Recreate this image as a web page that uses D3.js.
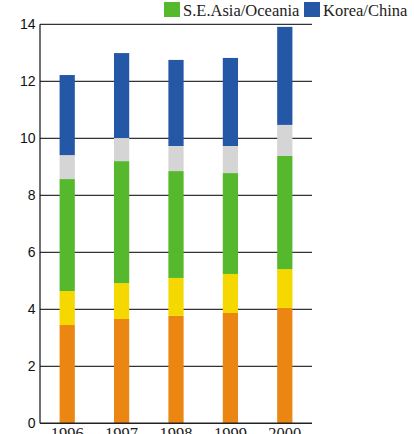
<!DOCTYPE html>
<html lang="en">
<head>
<meta charset="UTF-8">
<title>Stacked bars</title>
<style>
  body { margin:0; background:#fff; }
  svg { display:block; }
</style>
</head>
<body>
<svg width="414" height="434"></svg>
<script src="https://cdnjs.cloudflare.com/ajax/libs/d3/7.8.5/d3.min.js"></script>
<script>
// data
const years = ["1996", "1997", "1998", "1999", "2000"];
const seriesNames = ["Japan", "North America", "S.E.Asia/Oceania", "Europe", "Korea/China"];
const seriesColors = ["#ec8612", "#f5d800", "#56b92d", "#d5d5d5", "#2457a5"];
const japan = [3.45, 3.66, 3.77, 3.87, 4.05];
const northAmerica = [1.19, 1.26, 1.33, 1.37, 1.36];
const seAsia = [3.93, 4.28, 3.75, 3.54, 3.97];
const europe = [0.84, 0.81, 0.88, 0.95, 1.09];
const koreaChina = [2.81, 2.98, 3.02, 3.09, 3.44];
const yTicks = [0, 2, 4, 6, 8, 10, 12, 14];
const legendShown = ["S.E.Asia/Oceania", "Korea/China"];

const seriesValues = [japan, northAmerica, seAsia, europe, koreaChina];
const rows = years.map((yr, i) => {
  const r = { year: yr };
  seriesNames.forEach((n, k) => r[n] = seriesValues[k][i]);
  return r;
});

const svg = d3.select("svg");
const plotL = 40, plotR = 312, plotT = 24.3, plotB = 423.3;

const x = d3.scaleBand().domain(years).range([plotL, plotR])
  .paddingInner(0.72).paddingOuter(0.36);
const y = d3.scaleLinear().domain([0, 14]).range([plotB, plotT]);

// grid lines
svg.append("g").selectAll("line").data(yTicks.slice(1)).join("line")
  .attr("x1", plotL).attr("x2", plotR)
  .attr("y1", d => y(d)).attr("y2", d => y(d))
  .attr("stroke", "#333").attr("stroke-width", 1.3);

// bars
const stacked = d3.stack().keys(seriesNames)(rows);
svg.append("g").selectAll("g").data(stacked).join("g")
  .attr("fill", (d, i) => seriesColors[i])
  .selectAll("rect").data(d => d).join("rect")
  .attr("x", d => x(d.data.year))
  .attr("width", x.bandwidth())
  .attr("y", d => y(d[1]))
  .attr("height", d => y(d[0]) - y(d[1]));

// axes lines
svg.append("line").attr("x1", plotL).attr("x2", plotL).attr("y1", plotT).attr("y2", plotB)
  .attr("stroke", "#111").attr("stroke-width", 1.2);
svg.append("line").attr("x1", plotL).attr("x2", plotR).attr("y1", plotB).attr("y2", plotB)
  .attr("stroke", "#222").attr("stroke-width", 1.6);

// y tick labels
svg.append("g").selectAll("text").data(yTicks).join("text")
  .attr("x", 35.5).attr("y", d => y(d)).attr("dy", "0.36em")
  .attr("text-anchor", "end")
  .style("font-family", "'Liberation Sans', Arial, sans-serif")
  .style("font-size", "14px").attr("fill", "#111")
  .text(d => d);

// x labels (cut by the bottom edge, as in the original)
svg.append("g").selectAll("text").data(years).join("text")
  .attr("x", d => x(d) + x.bandwidth() / 2).attr("y", 439)
  .attr("text-anchor", "middle")
  .style("font-family", "'Liberation Serif', 'Times New Roman', serif")
  .style("font-size", "16.5px").attr("fill", "#222")
  .text(d => d);

// legend
const legendX = [164, 304];
const lg = svg.append("g").selectAll("g").data(legendShown).join("g")
  .attr("transform", (d, i) => `translate(${legendX[i]},2)`);
lg.append("rect").attr("width", 16).attr("height", 15)
  .attr("fill", d => seriesColors[seriesNames.indexOf(d)]);
lg.append("text").attr("x", 19).attr("y", 13.5)
  .style("font-family", "'Liberation Serif', 'Times New Roman', serif")
  .style("font-size", "16.5px").attr("fill", "#222")
  .text(d => d);
</script>
</body>
</html>
